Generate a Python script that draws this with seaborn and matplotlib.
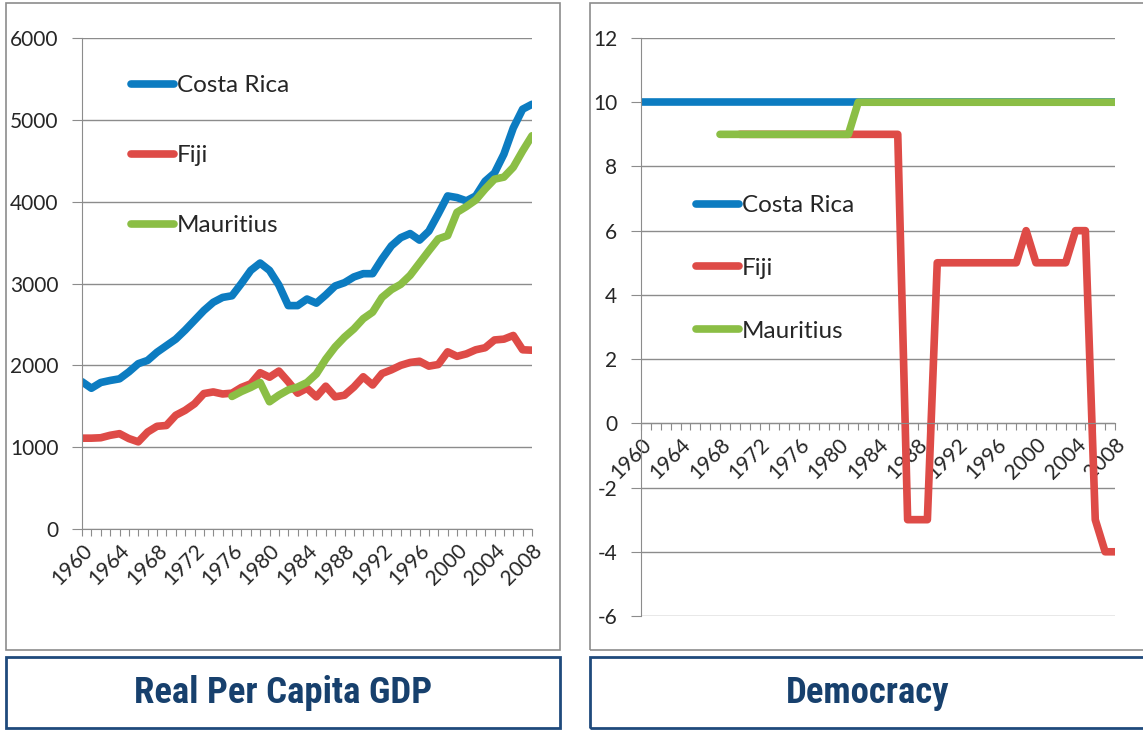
import numpy as np
import pandas as pd
import seaborn as sns
import matplotlib.pyplot as plt
from matplotlib.patches import Rectangle

nan = np.nan
years = list(range(1960, 2009))
countries = ["Costa Rica", "Fiji", "Mauritius"]
colors = ["#0C7CC1", "#DE4B47", "#8BBE45"]

gdp_costa_rica = [1800, 1720, 1790, 1815, 1835, 1920, 2020, 2060, 2160, 2240,
                  2320, 2430, 2550, 2670, 2770, 2830, 2850, 3000, 3160, 3250,
                  3160, 2980, 2730, 2730, 2810, 2760, 2860, 2970, 3010, 3080,
                  3120, 3120, 3300, 3460, 3560, 3610, 3530, 3640, 3850, 4070,
                  4050, 4010, 4070, 4250, 4350, 4580, 4900, 5130, 5190]
gdp_fiji = [1110, 1110, 1115, 1145, 1165, 1105, 1065, 1185, 1255, 1265,
            1390, 1450, 1530, 1655, 1675, 1650, 1660, 1730, 1775, 1910,
            1855, 1930, 1800, 1660, 1720, 1615, 1745, 1615, 1635, 1735,
            1860, 1760, 1900, 1945, 2000, 2035, 2050, 1990, 2010, 2165,
            2110, 2140, 2190, 2215, 2310, 2320, 2365, 2190, 2185]
gdp_mauritius = [nan, nan, nan, nan, nan, nan, nan, nan, nan, nan,
                 nan, nan, nan, nan, nan, nan, 1620, 1680, 1730, 1790,
                 1555, 1635, 1700, 1735, 1790, 1895, 2075, 2225, 2345, 2445,
                 2570, 2650, 2830, 2925, 2990, 3100, 3250, 3400, 3545, 3585,
                 3870, 3940, 4020, 4155, 4275, 4300, 4420, 4620, 4805]

dem_costa_rica = [10, 10, 10, 10, 10, 10, 10, 10, 10, 10,
                  10, 10, 10, 10, 10, 10, 10, 10, 10, 10,
                  10, 10, 10, 10, 10, 10, 10, 10, 10, 10,
                  10, 10, 10, 10, 10, 10, 10, 10, 10, 10,
                  10, 10, 10, 10, 10, 10, 10, 10, 10]
dem_fiji = [nan, nan, nan, nan, nan, nan, nan, nan, nan, nan,
            9, 9, 9, 9, 9, 9, 9, 9, 9, 9,
            9, 9, 9, 9, 9, 9, 9, -3, -3, -3,
            5, 5, 5, 5, 5, 5, 5, 5, 5, 6,
            5, 5, 5, 5, 6, 6, -3, -4, -4]
dem_mauritius = [nan, nan, nan, nan, nan, nan, nan, nan, 9, 9,
                 9, 9, 9, 9, 9, 9, 9, 9, 9, 9,
                 9, 9, 10, 10, 10, 10, 10, 10, 10, 10,
                 10, 10, 10, 10, 10, 10, 10, 10, 10, 10,
                 10, 10, 10, 10, 10, 10, 10, 10, 10]

gdp = pd.DataFrame({"year": years, "Costa Rica": gdp_costa_rica,
                    "Fiji": gdp_fiji, "Mauritius": gdp_mauritius})
gdp = gdp.melt(id_vars="year", var_name="country", value_name="value").dropna()
dem = pd.DataFrame({"year": years, "Costa Rica": dem_costa_rica,
                    "Fiji": dem_fiji, "Mauritius": dem_mauritius})
dem = dem.melt(id_vars="year", var_name="country", value_name="value").dropna()

sns.set_style("white")
plt.rcParams["font.family"] = ["Lato", "DejaVu Sans"]
plt.rcParams["axes.unicode_minus"] = False

W, H = 1143, 730
fig = plt.figure(figsize=(W / 100, H / 100), dpi=100)


def fx(x):
    return x / W


def fy(y):
    return 1 - y / H


grid_col = "#8C8C8C"

# chart boxes and title boxes
for x0, x1 in [(6, 560), (590, 1146)]:
    fig.patches.append(Rectangle((fx(x0), fy(650)), fx(x1 - x0), (650 - 3) / H,
                                 transform=fig.transFigure, fill=False,
                                 edgecolor="#8C8C8C", linewidth=1.2))
    fig.patches.append(Rectangle((fx(x0), fy(728)), fx(x1 - x0), (728 - 657) / H,
                                 transform=fig.transFigure, fill=False,
                                 edgecolor="#1F4A7C", linewidth=2))

ax1 = fig.add_axes([fx(82), fy(529), fx(532 - 82), (529 - 38) / H])
ax2 = fig.add_axes([fx(641), fy(616), fx(1115 - 641), (616 - 38) / H])
# democracy x axis crosses at zero
ax2.spines["bottom"].set_position(("data", 0))

for ax, df in [(ax1, gdp), (ax2, dem)]:
    sns.lineplot(data=df, x="year", y="value", hue="country", hue_order=countries,
                 palette=colors, estimator=None, linewidth=5.5, ax=ax)
    for line in ax.get_lines():
        line.set_solid_capstyle("round")
        line.set_solid_joinstyle("round")
    ax.set_xlim(1960, 2008)
    ax.set_xlabel("")
    ax.set_ylabel("")
    ax.yaxis.grid(True, color=grid_col, linewidth=1)
    ax.set_axisbelow(True)
    for s in ["top", "right"]:
        ax.spines[s].set_visible(False)
    ax.spines["left"].set_color(grid_col)
    ax.spines["bottom"].set_color(grid_col)
    ax.set_xticks(years)
    ax.set_xticklabels([str(y) if y % 4 == 0 else "" for y in years],
                       rotation=45, ha="right", rotation_mode="anchor")
    ax.tick_params(axis="x", length=5, color=grid_col, labelsize=15, pad=3,
                   direction="out", bottom=True)
    ax.tick_params(axis="y", length=7, color=grid_col, labelsize=15, pad=10,
                   direction="out", left=True)

ax1.set_ylim(0, 6000)
ax1.set_yticks([0, 1000, 2000, 3000, 4000, 5000, 6000])
ax2.set_ylim(-6, 12)
ax2.set_yticks([-6, -4, -2, 0, 2, 4, 6, 8, 10, 12])

leg_pos = [(ax1, 131, 75, 2.02), (ax2, 696, 195, 1.72)]
for ax, lx, ly, sp in leg_pos:
    handles, labels = ax.get_legend_handles_labels()
    ax.legend(handles, labels, loc="upper left", frameon=False,
              bbox_to_anchor=(fx(lx), fy(ly)), bbox_transform=fig.transFigure,
              borderpad=0, borderaxespad=0, handlelength=1.75,
              handletextpad=0.15, labelspacing=sp, fontsize=17.5)

title_font = ["Roboto Condensed", "Lato", "DejaVu Sans"]
fig.text(fx(283), fy(693), "Real Per Capita GDP", ha="center", va="center",
         fontsize=26.5, fontweight="bold", color="#17406D", family=title_font)
fig.text(fx(868), fy(693), "Democracy", ha="center", va="center",
         fontsize=26.5, fontweight="bold", color="#17406D", family=title_font)

fig.savefig("out.png", dpi=100)
